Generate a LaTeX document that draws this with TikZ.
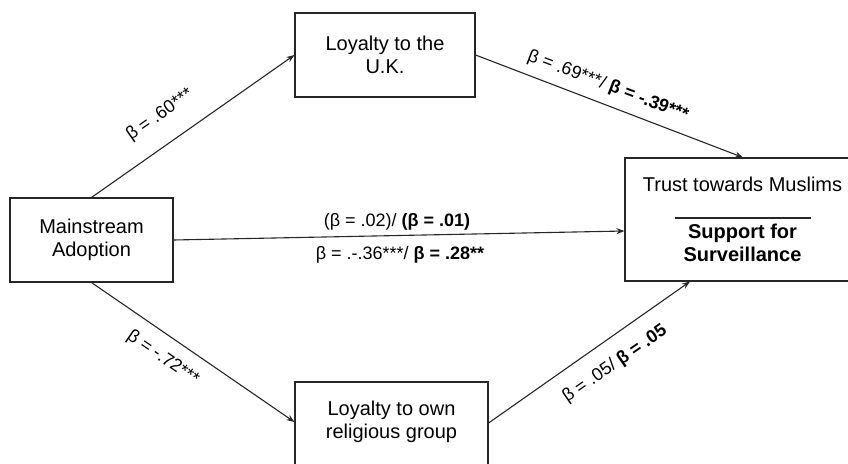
\documentclass[tikz,border=0pt]{standalone}
\usepackage{fontspec}
\setmainfont{Liberation Sans}
\usetikzlibrary{arrows.meta,calc}
\begin{document}
\begin{tikzpicture}[x=1pt,y=-1pt,
  box/.style={draw=black!85, line width=1.1pt, inner sep=0pt, align=center, font=\fontsize{20}{23}\selectfont},
  boxtext/.style={inner sep=0pt, align=center, font=\fontsize{20}{23}\selectfont},
  lbl/.style={inner sep=1pt, font=\fontsize{18}{21}\selectfont},
  arr/.style={draw=black!85, line width=1.1pt, -{Stealth[length=8pt,width=6pt]}}]
\clip (0,0) rectangle (848,463);
\useasboundingbox (0,0) rectangle (848,463);
% boxes
\node[box, minimum width=163pt, minimum height=84pt] (main) at (91.5,240) {Mainstream\\Adoption};
\node[box, minimum width=180pt, minimum height=84pt] (uk) at (385,55) {Loyalty to the\\U.K.};
\node[box, minimum width=193pt, minimum height=90pt] (own) at (391.5,427) {};
\node[boxtext] (ownt) at (391.5,422) {Loyalty to own\\religious group};
\node[box, minimum width=250pt, minimum height=123pt] (trust) at (750,219.5) {};
\node[boxtext] (trustt) at (742.5,184) {Trust towards Muslims};
\draw[line width=1.1pt, black!85] (675,218) -- (811,218);
\node[boxtext, font=\fontsize{20}{23}\selectfont\bfseries] (surv) at (742.5,243) {Support for\\Surveillance};
% connectors
\draw[arr] (main.north) -- (uk.west);
\draw[arr] (uk.east) -- ([xshift=-7pt]trust.north);
\draw[arr] (main.east) -- ([yshift=-11.5pt]trust.west);
\draw[arr] (main.south) -- ([yshift=5pt]own.west);
\draw[arr] ([yshift=4pt]own.east) -- ([xshift=-60pt]trust.south);
% labels
\node[lbl, rotate=35] (l1) at (160,115) {β = .60***};
\node[lbl, rotate=-20.8] (l2) at (608,86) {β = .69***/ \textbf{β = -.39***}};
\node[lbl] (l3) at (397,222) {(β = .02)/ \textbf{(β = .01)}};
\node[lbl] (l4) at (400,255) {β = .-.36***/ \textbf{β = .28**}};
\node[lbl, rotate=-34.5] (l5) at (163,358) {β = -.72***};
\node[lbl, rotate=34.8] (l6) at (615,364) {β = .05/ \textbf{β = .05}};
\end{tikzpicture}
\end{document}
